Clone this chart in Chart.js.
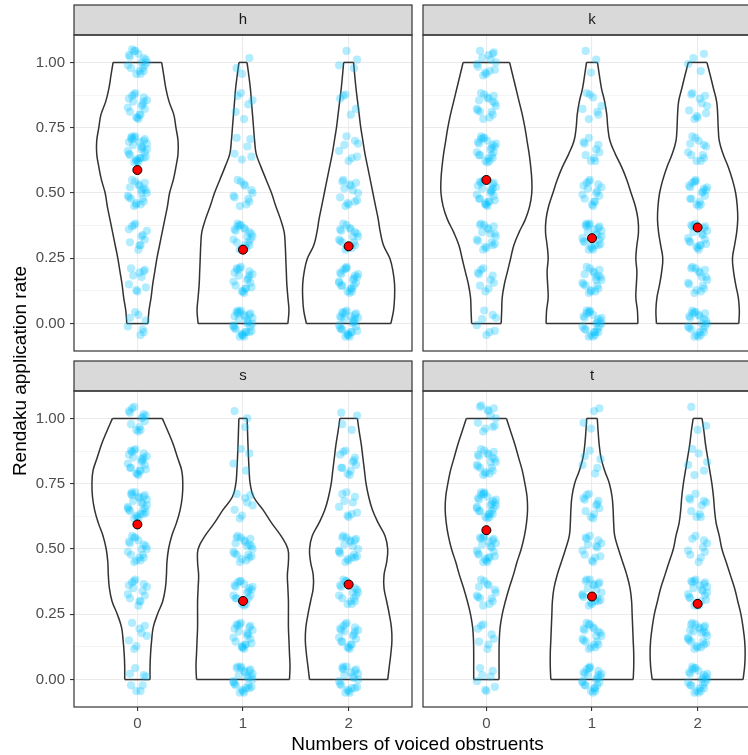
<!DOCTYPE html>
<html>
<head>
<meta charset="utf-8">
<script src="https://cdn.jsdelivr.net/npm/chart.js@4"></script>
<style>
  body { margin: 0; width: 748px; height: 755px; overflow: hidden; background: #fff; position: relative;
         font-family: "Liberation Sans", Arial, sans-serif; }
  canvas { position: absolute; }
  .ttl { position: absolute; color: #000; font-size: 19px; line-height: 22px; white-space: nowrap; text-align: center; }
</style>
</head>
<body>
<canvas id="c_h" width="418" height="356" style="left:0;top:0;width:418px;height:356px"></canvas>
<canvas id="c_k" width="348" height="356" style="left:418px;top:0;width:348px;height:356px"></canvas>
<canvas id="c_s" width="418" height="399" style="left:0;top:356px;width:418px;height:399px"></canvas>
<canvas id="c_t" width="348" height="399" style="left:418px;top:356px;width:348px;height:399px"></canvas>
<div class="ttl" style="left:0;top:733px;width:835px">Numbers of voiced obstruents</div>
<div class="ttl" style="left:-180px;top:360px;width:400px;transform:rotate(-90deg)">Rendaku application rate</div>
<script>
// facets and groups
const facetLabels = ['h', 'k', 's', 't'];
const groups = [0, 1, 2];
const xTicks = [0, 1, 2];
const xTickLabels = ['0', '1', '2'];
const yTicks = [0, 0.125, 0.25, 0.375, 0.5, 0.625, 0.75, 0.875, 1];
const yMajor = [0, 0.25, 0.5, 0.75, 1];

// rendaku rates that items take, and how many items sit at each rate (group 0 / 1 / 2)
const rateLevels = [0, 0.167, 0.333, 0.5, 0.667, 0.833, 1];
const countsH = [[8, 10, 12, 20, 28, 18, 18], [30, 20, 22, 12, 6, 6, 3], [28, 22, 18, 14, 8, 5, 4]];
const countsK = [[8, 10, 18, 24, 22, 16, 14], [26, 20, 24, 16, 10, 8, 3], [24, 16, 20, 18, 12, 11, 4]];
const countsS = [[8, 8, 14, 18, 26, 22, 14], [26, 22, 20, 20, 8, 4, 3], [22, 20, 18, 20, 10, 12, 4]];
const countsT = [[8, 8, 14, 22, 26, 20, 12], [24, 20, 20, 14, 12, 6, 4], [24, 24, 22, 10, 10, 6, 3]];

// group means (red dots)
const meanH = [0.588, 0.283, 0.296];
const meanK = [0.55, 0.327, 0.368];
const meanS = [0.594, 0.301, 0.364];
const meanT = [0.572, 0.318, 0.29];

// violin half widths at each rate in violinY
const violinY = [0, 0.05, 0.1, 0.15, 0.2, 0.25, 0.3, 0.35, 0.4, 0.45, 0.5, 0.55, 0.6, 0.65, 0.7, 0.75, 0.8, 0.85, 0.9, 0.95, 1];
const violinH = [
  [0.10, 0.11, 0.13, 0.145, 0.165, 0.185, 0.21, 0.235, 0.26, 0.285, 0.305, 0.34, 0.365, 0.385, 0.385, 0.365, 0.345, 0.30, 0.27, 0.25, 0.23],
  [0.425, 0.435, 0.425, 0.415, 0.41, 0.405, 0.40, 0.39, 0.355, 0.31, 0.27, 0.22, 0.17, 0.125, 0.11, 0.10, 0.09, 0.08, 0.07, 0.055, 0.038],
  [0.40, 0.425, 0.435, 0.435, 0.42, 0.39, 0.33, 0.30, 0.28, 0.255, 0.23, 0.205, 0.18, 0.155, 0.135, 0.115, 0.10, 0.085, 0.07, 0.058, 0.047]
];
const violinK = [
  [0.14, 0.145, 0.15, 0.17, 0.20, 0.23, 0.26, 0.31, 0.37, 0.41, 0.43, 0.43, 0.42, 0.405, 0.385, 0.365, 0.34, 0.31, 0.28, 0.25, 0.22],
  [0.435, 0.43, 0.415, 0.42, 0.425, 0.415, 0.425, 0.44, 0.435, 0.41, 0.37, 0.33, 0.28, 0.22, 0.17, 0.15, 0.14, 0.12, 0.09, 0.07, 0.052],
  [0.39, 0.395, 0.385, 0.36, 0.34, 0.33, 0.35, 0.37, 0.38, 0.375, 0.36, 0.33, 0.29, 0.24, 0.205, 0.195, 0.19, 0.18, 0.15, 0.12, 0.088]
];
const violinS = [
  [0.12, 0.12, 0.125, 0.135, 0.15, 0.19, 0.24, 0.265, 0.275, 0.28, 0.295, 0.325, 0.37, 0.405, 0.425, 0.43, 0.42, 0.38, 0.34, 0.29, 0.236],
  [0.44, 0.445, 0.44, 0.435, 0.43, 0.43, 0.43, 0.425, 0.42, 0.43, 0.425, 0.36, 0.27, 0.19, 0.10, 0.068, 0.058, 0.052, 0.047, 0.043, 0.039],
  [0.37, 0.385, 0.40, 0.41, 0.405, 0.385, 0.36, 0.335, 0.335, 0.36, 0.37, 0.345, 0.28, 0.225, 0.19, 0.165, 0.15, 0.135, 0.12, 0.10, 0.083]
];
const violinT = [
  [0.12, 0.12, 0.12, 0.122, 0.13, 0.15, 0.18, 0.215, 0.255, 0.29, 0.33, 0.36, 0.38, 0.39, 0.385, 0.365, 0.34, 0.305, 0.27, 0.23, 0.19],
  [0.39, 0.395, 0.395, 0.39, 0.385, 0.38, 0.375, 0.36, 0.33, 0.29, 0.25, 0.215, 0.205, 0.20, 0.19, 0.165, 0.12, 0.085, 0.068, 0.058, 0.05],
  [0.43, 0.445, 0.45, 0.445, 0.43, 0.41, 0.38, 0.35, 0.31, 0.27, 0.23, 0.205, 0.175, 0.16, 0.15, 0.135, 0.115, 0.095, 0.075, 0.06, 0.042]
];

// jitter offsets, as spread in the picture
const jitterX = [-0.07, 0.03, 0.08, -0.02, 0.05, -0.09, 0.01, 0.06, -0.05, 0.09, -0.03, 0.02, -0.08, 0.07, -0.01, 0.04, -0.06, 0.08, 0.00,
  -0.04, 0.06, -0.09, 0.03, -0.02, 0.09, -0.07, 0.05, 0.01, -0.05, 0.07, -0.03, 0.02, -0.08, 0.04, -0.01, 0.06, -0.06];
const jitterY = [0.022, -0.044, 0.011, 0.044, -0.022, -0.011, 0.033, -0.033, 0.05, 0.0, -0.05, 0.028, -0.017, 0.039, -0.039, 0.011, 0.044, -0.028, -0.044,
  0.017, 0.033, -0.006, -0.033, 0.05, 0.022, -0.022, 0.006, -0.05, 0.039, -0.011, 0.044, -0.033, 0.028, 0.0, -0.044, 0.017, -0.022];

Chart.defaults.font.family = '"Liberation Sans", Arial, sans-serif';

// grey strip + panel border, like facet_wrap in theme_bw
const stripPlugin = {
  id: 'strip',
  afterDraw(chart, args, opts) {
    const { ctx, chartArea: a } = chart;
    const w = a.right - a.left;
    ctx.save();
    ctx.fillStyle = '#D9D9D9';
    ctx.fillRect(a.left, a.top - 30, w, 30);
    ctx.strokeStyle = '#333333';
    ctx.lineWidth = 1.2;
    ctx.strokeRect(a.left, a.top - 30, w, 30);
    ctx.strokeRect(a.left, a.top, w, a.bottom - a.top);
    ctx.fillStyle = '#1A1A1A';
    ctx.font = '15px "Liberation Sans", Arial, sans-serif';
    ctx.textAlign = 'center';
    ctx.textBaseline = 'middle';
    ctx.fillText(opts.label, a.left + w / 2, a.top - 15);
    ctx.restore();
  }
};

function buildDatasets(counts, means, widths, f) {
  const ds = [];
  ds.push({
    type: 'scatter', order: 0,
    data: means.map((m, g) => ({ x: groups[g], y: m })),
    pointRadius: 4.5, pointBackgroundColor: '#FF0000', pointBorderColor: '#000000', pointBorderWidth: 1
  });
  const pts = [];
  counts.forEach((row, g) => {
    row.forEach((n, k) => {
      for (let j = 0; j < n; j++) {
        const i = (j + k * 11 + g * 5 + f * 17) % jitterX.length;
        pts.push({ x: groups[g] + jitterX[i], y: rateLevels[k] + jitterY[i] });
      }
    });
  });
  ds.push({
    type: 'scatter', order: 1, data: pts,
    pointRadius: 4.1, pointBackgroundColor: 'rgba(0,191,255,0.3)', pointBorderWidth: 0
  });
  widths.forEach((w, g) => {
    const c = groups[g], last = w.length - 1;
    const line = { type: 'line', order: 2, borderColor: '#333333', borderWidth: 1.5, pointRadius: 0, fill: false };
    ds.push({ ...line, tension: 0.4, data: violinY.map((y, i) => ({ x: c - w[i], y })) });
    ds.push({ ...line, tension: 0.4, data: violinY.map((y, i) => ({ x: c + w[i], y })) });
    ds.push({ ...line, tension: 0, data: [{ x: c - w[0], y: violinY[0] }, { x: c + w[0], y: violinY[0] }] });
    ds.push({ ...line, tension: 0, data: [{ x: c - w[last], y: violinY[last] }, { x: c + w[last], y: violinY[last] }] });
  });
  return ds;
}

function makeChart(id, f, counts, means, widths, leftCol, bottomRow) {
  const isMajor = v => yMajor.includes(v);
  new Chart(document.getElementById(id), {
    type: 'scatter',
    data: { datasets: buildDatasets(counts, means, widths, f) },
    options: {
      responsive: false,
      animation: false,
      events: [],
      layout: {
        autoPadding: false,
        padding: { left: leftCol ? 0 : 5, right: leftCol ? 6 : 5, top: 35, bottom: bottomRow ? 0 : 5 }
      },
      plugins: { legend: { display: false }, tooltip: { enabled: false }, strip: { label: facetLabels[f] } },
      scales: {
        x: {
          type: 'linear', min: -0.6, max: 2.6,
          afterBuildTicks: s => { s.ticks = xTicks.map(v => ({ value: v })); },
          afterFit: s => { s.height = bottomRow ? 48 : 0; s.paddingLeft = 0; s.paddingRight = 0; },
          border: { display: false },
          grid: { color: '#EBEBEB', lineWidth: 1.1, drawTicks: bottomRow, tickLength: 4, tickColor: '#333333', tickWidth: 1.1 },
          ticks: {
            display: bottomRow, autoSkip: false, maxRotation: 0, padding: 4,
            color: '#4D4D4D', font: { size: 15 },
            callback: (v, i) => xTickLabels[i]
          }
        },
        y: {
          type: 'linear', min: -0.105, max: 1.105,
          afterBuildTicks: s => { s.ticks = yTicks.map(v => ({ value: v })); },
          afterFit: s => { s.width = leftCol ? 74 : 0; s.paddingTop = 0; s.paddingBottom = 0; },
          border: { display: false },
          grid: {
            color: '#EBEBEB',
            lineWidth: c => isMajor(c.tick.value) ? 1.1 : 0.55,
            drawTicks: leftCol, tickLength: 4, tickWidth: 1.1,
            tickColor: c => isMajor(c.tick.value) ? '#333333' : 'rgba(0,0,0,0)'
          },
          ticks: {
            display: leftCol, autoSkip: false, padding: 5,
            color: '#4D4D4D', font: { size: 15 },
            callback: v => isMajor(v) ? v.toFixed(2) : ''
          }
        }
      }
    },
    plugins: [stripPlugin]
  });
}

makeChart('c_h', 0, countsH, meanH, violinH, true, false);
makeChart('c_k', 1, countsK, meanK, violinK, false, false);
makeChart('c_s', 2, countsS, meanS, violinS, true, true);
makeChart('c_t', 3, countsT, meanT, violinT, false, true);
</script>
</body>
</html>
